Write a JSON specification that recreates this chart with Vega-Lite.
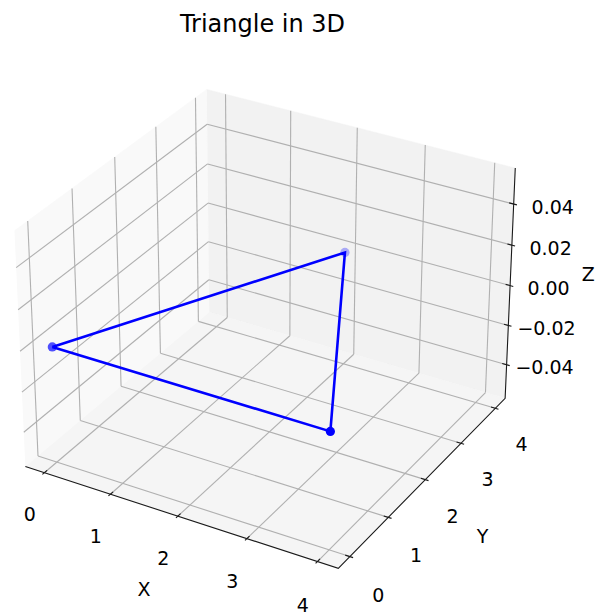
{
  "$schema": "https://vega.github.io/schema/vega-lite/v6.json",
  "width": 603,
  "height": 613,
  "autosize": {"type": "none"},
  "padding": 0,
  "background": "white",
  "view": {"stroke": null},
  "title": {"text": "Triangle in 3D", "font": "DejaVu Sans", "fontSize": 24, "fontWeight": "normal", "color": "#000000", "anchor": "middle", "frame": "group", "offset": -31, "baseline": "alphabetic", "dx": -39, "dy": 25},
  "datasets": {
    "panes": [
      {"pane": "x", "k": 0, "x": -0.2917, "y": -0.2917, "z": -0.0573},
      {"pane": "x", "k": 1, "x": -0.2917, "y": 4.2917, "z": -0.0573},
      {"pane": "x", "k": 2, "x": -0.2917, "y": 4.2917, "z": 0.0573},
      {"pane": "x", "k": 3, "x": -0.2917, "y": -0.2917, "z": 0.0573},
      {"pane": "y", "k": 0, "x": -0.2917, "y": 4.2917, "z": -0.0573},
      {"pane": "y", "k": 1, "x": 4.2917, "y": 4.2917, "z": -0.0573},
      {"pane": "y", "k": 2, "x": 4.2917, "y": 4.2917, "z": 0.0573},
      {"pane": "y", "k": 3, "x": -0.2917, "y": 4.2917, "z": 0.0573},
      {"pane": "z", "k": 0, "x": -0.2917, "y": -0.2917, "z": -0.0573},
      {"pane": "z", "k": 1, "x": 4.2917, "y": -0.2917, "z": -0.0573},
      {"pane": "z", "k": 2, "x": 4.2917, "y": 4.2917, "z": -0.0573},
      {"pane": "z", "k": 3, "x": -0.2917, "y": 4.2917, "z": -0.0573}
    ],
    "frame": [
      {"k": 0, "x": -0.2917, "y": -0.2917, "z": -0.0573},
      {"k": 1, "x": 4.2917, "y": -0.2917, "z": -0.0573},
      {"k": 2, "x": 4.2917, "y": 4.2917, "z": -0.0573},
      {"k": 3, "x": 4.2917, "y": 4.2917, "z": 0.0573}
    ],
    "ticks": [
      {"axis": "x", "v": 0, "label": "0"},
      {"axis": "x", "v": 1, "label": "1"},
      {"axis": "x", "v": 2, "label": "2"},
      {"axis": "x", "v": 3, "label": "3"},
      {"axis": "x", "v": 4, "label": "4"},
      {"axis": "y", "v": 0, "label": "0"},
      {"axis": "y", "v": 1, "label": "1"},
      {"axis": "y", "v": 2, "label": "2"},
      {"axis": "y", "v": 3, "label": "3"},
      {"axis": "y", "v": 4, "label": "4"},
      {"axis": "z", "v": -0.04, "label": "−0.04"},
      {"axis": "z", "v": -0.02, "label": "−0.02"},
      {"axis": "z", "v": 0, "label": "0.00"},
      {"axis": "z", "v": 0.02, "label": "0.02"},
      {"axis": "z", "v": 0.04, "label": "0.04"}
    ],
    "titles": [
      {"axis": "x", "label": "X"},
      {"axis": "y", "label": "Y"},
      {"axis": "z", "label": "Z"}
    ],
    "triangle": [
      {"k": 0, "x": 0, "y": 0, "z": 0},
      {"k": 1, "x": 4, "y": 0, "z": 0},
      {"k": 2, "x": 2, "y": 4, "z": 0},
      {"k": 3, "x": 0, "y": 0, "z": 0}
    ]
  },
  "layer": [
    {
      "data": {"name": "panes"},
      "transform": [
        {"filter": "datum.pane=='x'"},
        {"calculate": "(datum.x-2)/4.5833", "as": "a"},
        {"calculate": "(datum.y-2)/4.5833", "as": "b"},
        {"calculate": "datum.z/0.1146", "as": "c"},
        {"calculate": "10-(0.494872*datum.a-0.857143*datum.b+0.428571*datum.c)", "as": "q"},
        {"calculate": "(0.98974*datum.a+0.571429*datum.b)/datum.q", "as": "px"},
        {"calculate": "(-0.285714*datum.a+0.494872*datum.b+0.742307*datum.c)/datum.q", "as": "py"}
      ],
      "mark": {"type": "line", "fill": "#f9f9f9", "stroke": "#f9f9f9", "strokeWidth": 0.5},
      "encoding": {
        "x": {"field": "px", "type": "quantitative", "scale": {"domain": [-0.085882, 0.106278], "nice": false, "zero": false}, "axis": null},
        "y": {"field": "py", "type": "quantitative", "scale": {"domain": [-0.094073, 0.101275], "nice": false, "zero": false}, "axis": null},
        "order": {"field": "k", "type": "quantitative"}
      }
    },
    {
      "data": {"name": "panes"},
      "transform": [
        {"filter": "datum.pane=='y'"},
        {"calculate": "(datum.x-2)/4.5833", "as": "a"},
        {"calculate": "(datum.y-2)/4.5833", "as": "b"},
        {"calculate": "datum.z/0.1146", "as": "c"},
        {"calculate": "10-(0.494872*datum.a-0.857143*datum.b+0.428571*datum.c)", "as": "q"},
        {"calculate": "(0.98974*datum.a+0.571429*datum.b)/datum.q", "as": "px"},
        {"calculate": "(-0.285714*datum.a+0.494872*datum.b+0.742307*datum.c)/datum.q", "as": "py"}
      ],
      "mark": {"type": "line", "fill": "#f2f2f2", "stroke": "#f2f2f2", "strokeWidth": 0.5},
      "encoding": {
        "x": {"field": "px", "type": "quantitative", "scale": {"domain": [-0.085882, 0.106278], "nice": false, "zero": false}, "axis": null},
        "y": {"field": "py", "type": "quantitative", "scale": {"domain": [-0.094073, 0.101275], "nice": false, "zero": false}, "axis": null},
        "order": {"field": "k", "type": "quantitative"}
      }
    },
    {
      "data": {"name": "panes"},
      "transform": [
        {"filter": "datum.pane=='z'"},
        {"calculate": "(datum.x-2)/4.5833", "as": "a"},
        {"calculate": "(datum.y-2)/4.5833", "as": "b"},
        {"calculate": "datum.z/0.1146", "as": "c"},
        {"calculate": "10-(0.494872*datum.a-0.857143*datum.b+0.428571*datum.c)", "as": "q"},
        {"calculate": "(0.98974*datum.a+0.571429*datum.b)/datum.q", "as": "px"},
        {"calculate": "(-0.285714*datum.a+0.494872*datum.b+0.742307*datum.c)/datum.q", "as": "py"}
      ],
      "mark": {"type": "line", "fill": "#f5f5f5", "stroke": "#f5f5f5", "strokeWidth": 0.5},
      "encoding": {
        "x": {"field": "px", "type": "quantitative", "scale": {"domain": [-0.085882, 0.106278], "nice": false, "zero": false}, "axis": null},
        "y": {"field": "py", "type": "quantitative", "scale": {"domain": [-0.094073, 0.101275], "nice": false, "zero": false}, "axis": null},
        "order": {"field": "k", "type": "quantitative"}
      }
    },
    {
      "data": {"name": "ticks"},
      "transform": [
        {"calculate": "datum.axis=='z' ? datum.v/0.1146 : (datum.v-2)/4.5833", "as": "n"},
        {"calculate": "datum.axis=='x' ? datum.n : -0.5", "as": "a1"},
        {"calculate": "datum.axis=='y' ? datum.n : -0.5", "as": "b1"},
        {"calculate": "datum.axis=='z' ? datum.n : -0.5", "as": "c1"},
        {"calculate": "datum.axis=='x' ? datum.n : (datum.axis=='y' ? 0.5 : -0.5)", "as": "a2"},
        {"calculate": "datum.axis=='x' ? 0.5 : (datum.axis=='y' ? datum.n : 0.5)", "as": "b2"},
        {"calculate": "datum.c1", "as": "c2"},
        {"calculate": "10-(0.494872*datum.a1-0.857143*datum.b1+0.428571*datum.c1)", "as": "q1"},
        {"calculate": "10-(0.494872*datum.a2-0.857143*datum.b2+0.428571*datum.c2)", "as": "q2"},
        {"calculate": "(0.98974*datum.a1+0.571429*datum.b1)/datum.q1", "as": "px1"},
        {"calculate": "(-0.285714*datum.a1+0.494872*datum.b1+0.742307*datum.c1)/datum.q1", "as": "py1"},
        {"calculate": "(0.98974*datum.a2+0.571429*datum.b2)/datum.q2", "as": "px2"},
        {"calculate": "(-0.285714*datum.a2+0.494872*datum.b2+0.742307*datum.c2)/datum.q2", "as": "py2"}
      ],
      "mark": {"type": "rule", "color": "#b0b0b0", "strokeWidth": 1.1},
      "encoding": {
        "x": {"field": "px1", "type": "quantitative", "scale": {"domain": [-0.085882, 0.106278], "nice": false, "zero": false}, "axis": null},
        "y": {"field": "py1", "type": "quantitative", "scale": {"domain": [-0.094073, 0.101275], "nice": false, "zero": false}, "axis": null},
        "x2": {"field": "px2"},
        "y2": {"field": "py2"}
      }
    },
    {
      "data": {"name": "ticks"},
      "transform": [
        {"calculate": "datum.axis=='z' ? datum.v/0.1146 : (datum.v-2)/4.5833", "as": "n"},
        {"calculate": "datum.axis=='x' ? datum.n : -0.5", "as": "a1"},
        {"calculate": "datum.axis=='x' ? datum.n : (datum.axis=='z' ? 0.5 : -0.5)", "as": "a2"},
        {"calculate": "datum.axis=='y' ? datum.n : 0.5", "as": "b1"},
        {"calculate": "datum.b1", "as": "b2"},
        {"calculate": "datum.axis=='z' ? datum.n : -0.5", "as": "c1"},
        {"calculate": "datum.axis=='z' ? datum.n : 0.5", "as": "c2"},
        {"calculate": "10-(0.494872*datum.a1-0.857143*datum.b1+0.428571*datum.c1)", "as": "q1"},
        {"calculate": "10-(0.494872*datum.a2-0.857143*datum.b2+0.428571*datum.c2)", "as": "q2"},
        {"calculate": "(0.98974*datum.a1+0.571429*datum.b1)/datum.q1", "as": "px1"},
        {"calculate": "(-0.285714*datum.a1+0.494872*datum.b1+0.742307*datum.c1)/datum.q1", "as": "py1"},
        {"calculate": "(0.98974*datum.a2+0.571429*datum.b2)/datum.q2", "as": "px2"},
        {"calculate": "(-0.285714*datum.a2+0.494872*datum.b2+0.742307*datum.c2)/datum.q2", "as": "py2"}
      ],
      "mark": {"type": "rule", "color": "#b0b0b0", "strokeWidth": 1.1},
      "encoding": {
        "x": {"field": "px1", "type": "quantitative", "scale": {"domain": [-0.085882, 0.106278], "nice": false, "zero": false}, "axis": null},
        "y": {"field": "py1", "type": "quantitative", "scale": {"domain": [-0.094073, 0.101275], "nice": false, "zero": false}, "axis": null},
        "x2": {"field": "px2"},
        "y2": {"field": "py2"}
      }
    },
    {
      "data": {"name": "frame"},
      "transform": [
        {"calculate": "(datum.x-2)/4.5833", "as": "a"},
        {"calculate": "(datum.y-2)/4.5833", "as": "b"},
        {"calculate": "datum.z/0.1146", "as": "c"},
        {"calculate": "10-(0.494872*datum.a-0.857143*datum.b+0.428571*datum.c)", "as": "q"},
        {"calculate": "(0.98974*datum.a+0.571429*datum.b)/datum.q", "as": "px"},
        {"calculate": "(-0.285714*datum.a+0.494872*datum.b+0.742307*datum.c)/datum.q", "as": "py"}
      ],
      "mark": {"type": "line", "color": "#1a1a1a", "strokeWidth": 1.1},
      "encoding": {
        "x": {"field": "px", "type": "quantitative", "scale": {"domain": [-0.085882, 0.106278], "nice": false, "zero": false}, "axis": null},
        "y": {"field": "py", "type": "quantitative", "scale": {"domain": [-0.094073, 0.101275], "nice": false, "zero": false}, "axis": null},
        "order": {"field": "k", "type": "quantitative"}
      }
    },
    {
      "data": {"name": "ticks"},
      "transform": [
        {"calculate": "datum.axis=='z' ? datum.v/0.1146 : (datum.v-2)/4.5833", "as": "n"},
        {"calculate": "datum.axis=='x' ? datum.n : 0.51", "as": "a1"},
        {"calculate": "datum.axis=='x' ? datum.n : 0.486", "as": "a2"},
        {"calculate": "datum.axis=='x' ? -0.51 : (datum.axis=='y' ? datum.n : 0.5)", "as": "b1"},
        {"calculate": "datum.axis=='x' ? -0.486 : (datum.axis=='y' ? datum.n : 0.5)", "as": "b2"},
        {"calculate": "datum.axis=='z' ? datum.n : -0.5", "as": "c1"},
        {"calculate": "datum.c1", "as": "c2"},
        {"calculate": "10-(0.494872*datum.a1-0.857143*datum.b1+0.428571*datum.c1)", "as": "q1"},
        {"calculate": "10-(0.494872*datum.a2-0.857143*datum.b2+0.428571*datum.c2)", "as": "q2"},
        {"calculate": "(0.98974*datum.a1+0.571429*datum.b1)/datum.q1", "as": "px1"},
        {"calculate": "(-0.285714*datum.a1+0.494872*datum.b1+0.742307*datum.c1)/datum.q1", "as": "py1"},
        {"calculate": "(0.98974*datum.a2+0.571429*datum.b2)/datum.q2", "as": "px2"},
        {"calculate": "(-0.285714*datum.a2+0.494872*datum.b2+0.742307*datum.c2)/datum.q2", "as": "py2"}
      ],
      "mark": {"type": "rule", "color": "#1a1a1a", "strokeWidth": 1.1},
      "encoding": {
        "x": {"field": "px1", "type": "quantitative", "scale": {"domain": [-0.085882, 0.106278], "nice": false, "zero": false}, "axis": null},
        "y": {"field": "py1", "type": "quantitative", "scale": {"domain": [-0.094073, 0.101275], "nice": false, "zero": false}, "axis": null},
        "x2": {"field": "px2"},
        "y2": {"field": "py2"}
      }
    },
    {
      "data": {"name": "ticks"},
      "transform": [
        {"calculate": "datum.axis=='z' ? datum.v/0.1146 : (datum.v-2)/4.5833", "as": "n"},
        {"calculate": "datum.axis=='x' ? datum.n : (datum.axis=='y' ? 0.588 : 0.5826)", "as": "a"},
        {"calculate": "datum.axis=='x' ? -0.579 : (datum.axis=='y' ? datum.n : 0.5826)", "as": "b"},
        {"calculate": "datum.axis=='x' ? -0.628 : (datum.axis=='y' ? -0.628 : datum.n-0.039)", "as": "c"},
        {"calculate": "10-(0.494872*datum.a-0.857143*datum.b+0.428571*datum.c)", "as": "q"},
        {"calculate": "(0.98974*datum.a+0.571429*datum.b)/datum.q", "as": "px"},
        {"calculate": "(-0.285714*datum.a+0.494872*datum.b+0.742307*datum.c)/datum.q", "as": "py"}
      ],
      "mark": {"type": "text", "font": "DejaVu Sans", "fontSize": 19, "color": "#000000", "align": "center", "baseline": "middle"},
      "encoding": {
        "x": {"field": "px", "type": "quantitative", "scale": {"domain": [-0.085882, 0.106278], "nice": false, "zero": false}, "axis": null},
        "y": {"field": "py", "type": "quantitative", "scale": {"domain": [-0.094073, 0.101275], "nice": false, "zero": false}, "axis": null},
        "text": {"field": "label"}
      }
    },
    {
      "data": {"name": "titles"},
      "transform": [
        {"calculate": "datum.axis=='x' ? 0 : (datum.axis=='y' ? 0.683 : 0.6665)", "as": "a"},
        {"calculate": "datum.axis=='x' ? -0.68 : (datum.axis=='y' ? 0 : 0.6665)", "as": "b"},
        {"calculate": "datum.axis=='x' ? -0.68 : (datum.axis=='y' ? -0.675 : 0)", "as": "c"},
        {"calculate": "10-(0.494872*datum.a-0.857143*datum.b+0.428571*datum.c)", "as": "q"},
        {"calculate": "(0.98974*datum.a+0.571429*datum.b)/datum.q", "as": "px"},
        {"calculate": "(-0.285714*datum.a+0.494872*datum.b+0.742307*datum.c)/datum.q", "as": "py"}
      ],
      "mark": {"type": "text", "font": "DejaVu Sans", "fontSize": 19, "color": "#000000", "align": "center", "baseline": "middle"},
      "encoding": {
        "x": {"field": "px", "type": "quantitative", "scale": {"domain": [-0.085882, 0.106278], "nice": false, "zero": false}, "axis": null},
        "y": {"field": "py", "type": "quantitative", "scale": {"domain": [-0.094073, 0.101275], "nice": false, "zero": false}, "axis": null},
        "text": {"field": "label"}
      }
    },
    {
      "data": {"name": "triangle"},
      "transform": [
        {"calculate": "(datum.x-2)/4.5833", "as": "a"},
        {"calculate": "(datum.y-2)/4.5833", "as": "b"},
        {"calculate": "datum.z/0.1146", "as": "c"},
        {"calculate": "10-(0.494872*datum.a-0.857143*datum.b+0.428571*datum.c)", "as": "q"},
        {"calculate": "(0.98974*datum.a+0.571429*datum.b)/datum.q", "as": "px"},
        {"calculate": "(-0.285714*datum.a+0.494872*datum.b+0.742307*datum.c)/datum.q", "as": "py"}
      ],
      "mark": {"type": "line", "color": "#0000ff", "strokeWidth": 2.6},
      "encoding": {
        "x": {"field": "px", "type": "quantitative", "scale": {"domain": [-0.085882, 0.106278], "nice": false, "zero": false}, "axis": null},
        "y": {"field": "py", "type": "quantitative", "scale": {"domain": [-0.094073, 0.101275], "nice": false, "zero": false}, "axis": null},
        "order": {"field": "k", "type": "quantitative"}
      }
    },
    {
      "data": {"name": "triangle"},
      "transform": [
        {"filter": "datum.k<3"},
        {"calculate": "(datum.x-2)/4.5833", "as": "a"},
        {"calculate": "(datum.y-2)/4.5833", "as": "b"},
        {"calculate": "datum.z/0.1146", "as": "c"},
        {"calculate": "0.494872*datum.a-0.857143*datum.b+0.428571*datum.c", "as": "depth"},
        {"calculate": "10-datum.depth", "as": "q"},
        {"calculate": "(0.98974*datum.a+0.571429*datum.b)/datum.q", "as": "px"},
        {"calculate": "(-0.285714*datum.a+0.494872*datum.b+0.742307*datum.c)/datum.q", "as": "py"}
      ],
      "mark": {"type": "circle", "color": "#0000ff", "size": 85},
      "encoding": {
        "x": {"field": "px", "type": "quantitative", "scale": {"domain": [-0.085882, 0.106278], "nice": false, "zero": false}, "axis": null},
        "y": {"field": "py", "type": "quantitative", "scale": {"domain": [-0.094073, 0.101275], "nice": false, "zero": false}, "axis": null},
        "opacity": {"field": "depth", "type": "quantitative", "scale": {"range": [0.3, 1], "zero": false, "nice": false}, "legend": null}
      }
    }
  ]
}
